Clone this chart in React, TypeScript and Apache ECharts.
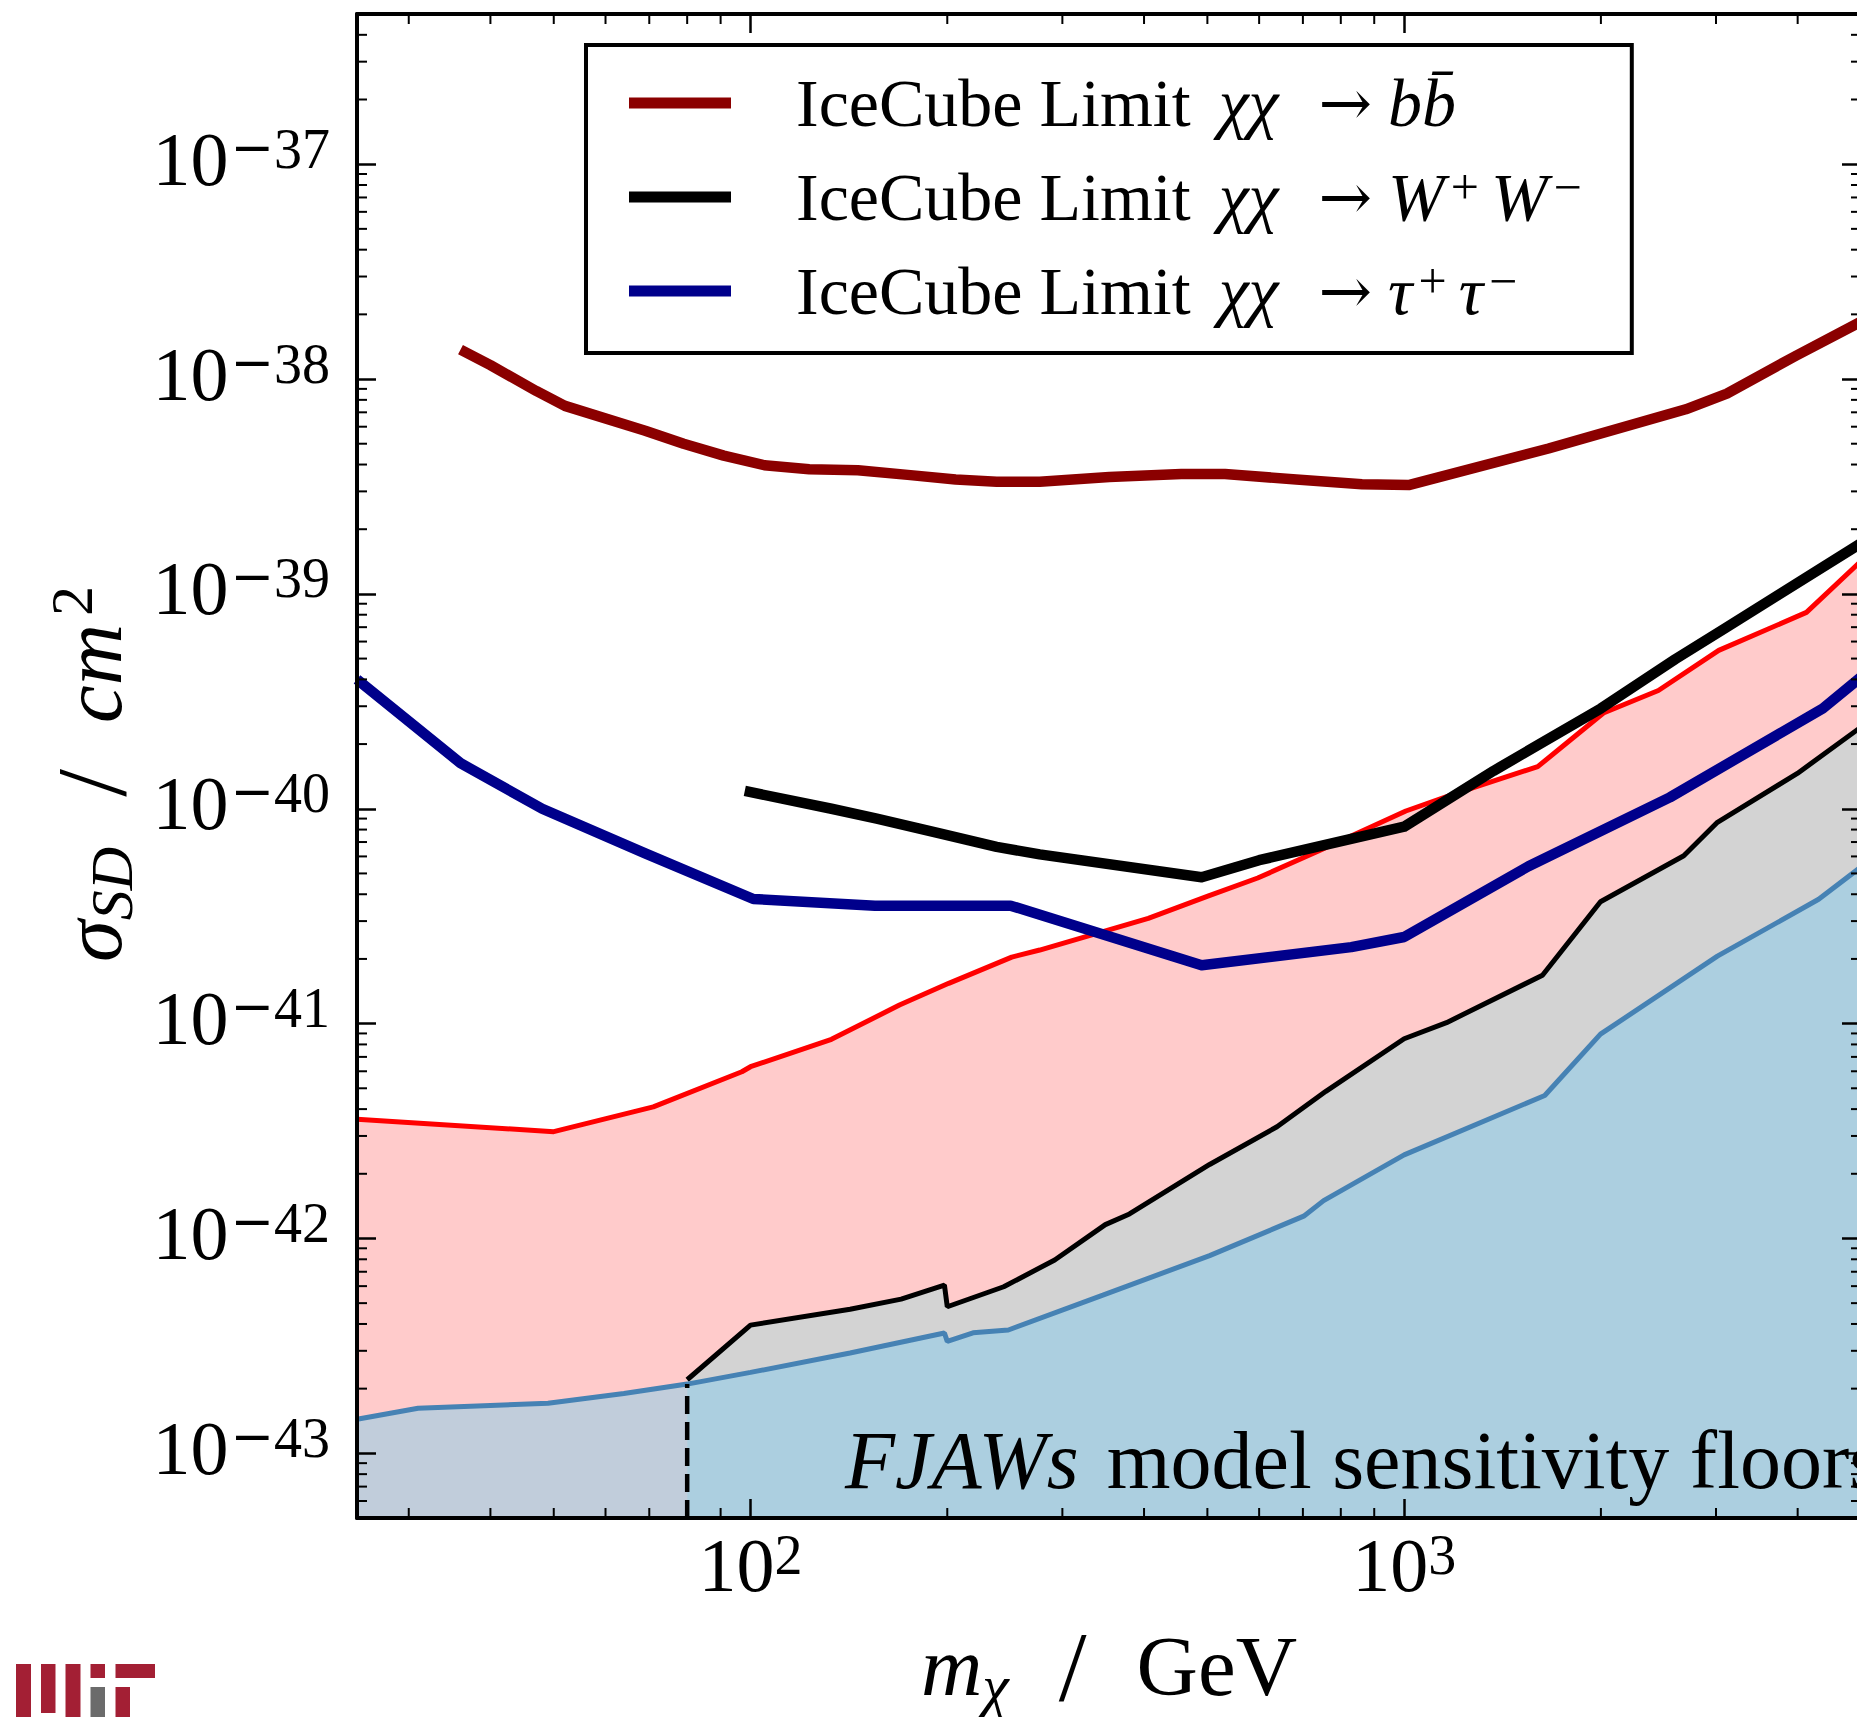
import React, { useEffect, useRef } from 'react';
import * as echarts from 'echarts';

const SERIF = "'Liberation Serif', 'DejaVu Serif', serif";
const WIDE = "'DejaVu Serif', serif";

// ---------- axis ranges ----------
const X_MIN = 25;
const X_MAX = 5000;
const Y_MIN = 5e-44;
const Y_MAX = 5e-37;
// cross sections are handed to the log axis in units of 1e-40 cm^2 (avoids rounding of tiny powers)
const Y_UNIT_EXP = -40;
const Y_UNIT = 1e-40;

// ---------- minor tick positions ----------
const X_MINOR_TICKS = [30, 40, 50, 60, 70, 80, 90, 200, 300, 400, 500, 600, 700, 800, 900, 2000, 3000, 4000];
const Y_MINOR_MULTIPLIERS = [2, 3, 4, 5, 6, 7, 8, 9];
const Y_MINOR_DECADES = [-44, -43, -42, -41, -40, -39, -38, -37];

// ---------- IceCube limits (thick lines) ----------
const BB_NAME = 'IceCube Limit χχ → bb̄';
const BB_MASS = [36, 40, 47, 52, 69, 79, 91, 105, 123, 146, 174, 206, 238, 277, 354, 456, 532, 684, 862, 1016, 1663, 2697, 3117, 3970, 5000];
const BB_SIGMA = [1.37e-38, 1.16e-38, 8.8e-39, 7.5e-39, 5.75e-39, 5.0e-39, 4.4e-39, 3.97e-39, 3.8e-39, 3.76e-39, 3.58e-39, 3.41e-39, 3.33e-39, 3.33e-39, 3.5e-39, 3.61e-39, 3.61e-39, 3.41e-39, 3.24e-39, 3.21e-39, 4.75e-39, 7.23e-39, 8.55e-39, 1.28e-38, 1.85e-38];

const WW_NAME = 'IceCube Limit χχ → W⁺W⁻';
const WW_MASS = [98, 133, 156, 194, 238, 277, 490, 600, 1000, 1370, 2000, 2600, 3100, 5000];
const WW_SIGMA = [1.21e-40, 1.0e-40, 9.0e-41, 7.7e-41, 6.65e-41, 6.13e-41, 4.8e-41, 5.76e-41, 8.25e-41, 1.5e-40, 2.93e-40, 4.97e-40, 6.93e-40, 1.72e-39];

const TT_NAME = 'IceCube Limit χχ → τ⁺τ⁻';
const TT_MASS = [25, 36, 48, 69, 101, 155, 250, 490, 830, 1000, 1550, 2550, 4370, 5000];
const TT_SIGMA = [4.0e-40, 1.63e-40, 1.0e-40, 6.2e-41, 3.8e-41, 3.54e-41, 3.54e-41, 1.87e-41, 2.27e-41, 2.53e-41, 5.4e-41, 1.13e-40, 2.93e-40, 4.1e-40];

// ---------- FJAWs sensitivity floors (filled regions) ----------
const RED_MASS = [25, 50, 71, 97, 100, 133, 169, 201, 251, 277, 406, 502, 597, 738, 1006, 1200, 1601, 2018, 2449, 3029, 4126, 5000];
const RED_SIGMA = [3.59e-42, 3.14e-42, 4.1e-42, 5.97e-42, 6.3e-42, 8.45e-42, 1.22e-41, 1.54e-41, 2.04e-41, 2.2e-41, 3.09e-41, 3.93e-41, 4.76e-41, 6.34e-41, 9.76e-41, 1.18e-40, 1.57e-40, 2.79e-40, 3.55e-40, 5.46e-40, 8.2e-40, 1.42e-39];

const GRAY_MASS = [80, 100, 142, 170, 198, 200, 244, 292, 349, 380, 504, 639, 759, 1000, 1161, 1628, 1997, 2678, 3015, 3996, 5000];
const GRAY_SIGMA = [2.2e-43, 3.95e-43, 4.68e-43, 5.22e-43, 6.07e-43, 4.81e-43, 5.96e-43, 7.94e-43, 1.16e-42, 1.3e-42, 2.21e-42, 3.31e-42, 4.84e-42, 8.5e-42, 1.01e-41, 1.68e-41, 3.69e-41, 6.04e-41, 8.65e-41, 1.46e-40, 2.4e-40];

const BLUE_LEFT_MASS = [25, 31, 49, 64, 80];
const BLUE_LEFT_SIGMA = [1.44e-43, 1.62e-43, 1.71e-43, 1.9e-43, 2.1e-43];

const BLUE_MASS = [80, 100, 142, 198, 200, 219, 248, 346, 504, 702, 753, 1000, 1641, 1997, 3015, 4307, 5000];
const BLUE_SIGMA = [2.1e-43, 2.38e-43, 2.93e-43, 3.63e-43, 3.32e-43, 3.64e-43, 3.75e-43, 5.45e-43, 8.32e-43, 1.27e-42, 1.5e-42, 2.45e-42, 4.63e-42, 8.93e-42, 2.06e-41, 3.79e-41, 5.36e-41];

const THRESHOLD_MASS = [80, 80];
const THRESHOLD_SIGMA = [Y_MIN, 2.1e-43];

// ---------- colours ----------
const DARK_RED = '#8B0000';
const NAVY = '#00008B';
const PINK_FILL = '#FFCBCB';
const GRAY_FILL = '#D3D3D3';
const BLUE_FILL = '#ACCFE0';
const LEFT_FILL = '#C1CDDB';
const STEEL = '#4682B4';
const MIT_RED = '#A31F34';
const MIT_GRAY = '#6B6B6B';

const yu = (s: number) => s / Y_UNIT;
const pairs = (xs: number[], ys: number[]) => xs.map((x, i) => [x, yu(ys[i])]);

const powLabel = (offset: number) => (v: number) => {
  if (!(v > 0)) return '';
  const e = Math.log10(v);
  const r = Math.round(e);
  if (Math.abs(e - r) > 1e-6) return '';
  const p = r + offset;
  if (p < 0) return `{b|10}{m|\u2212}{e|${-p}}`;
  return `{b|10}{e|${p}}`;
};

const tickRich = {
  b: { fontFamily: SERIF, fontSize: 76, lineHeight: 76, color: '#000' },
  m: { fontFamily: WIDE, fontSize: 52, lineHeight: 16, verticalAlign: 'top', padding: [0, 0, 0, 2], color: '#000' },
  e: { fontFamily: SERIF, fontSize: 56, lineHeight: 16, verticalAlign: 'top', color: '#000' },
};

const nameRich = {
  i: { fontFamily: SERIF, fontStyle: 'italic', fontSize: 85, lineHeight: 100, color: '#000' },
  s: { fontFamily: SERIF, fontStyle: 'italic', fontSize: 60, lineHeight: 57, verticalAlign: 'bottom', color: '#000' },
  sl: { fontFamily: SERIF, fontSize: 100, lineHeight: 94, verticalAlign: 'bottom', padding: [0, 0, 0, 50], color: '#000' },
  r: { fontFamily: SERIF, fontSize: 85, lineHeight: 100, padding: [0, 0, 0, 50], color: '#000' },
  ic: { fontFamily: SERIF, fontStyle: 'italic', fontSize: 85, lineHeight: 100, padding: [0, 0, 0, 46], color: '#000' },
  p: { fontFamily: SERIF, fontSize: 60, lineHeight: 55, verticalAlign: 'top', padding: [0, 0, 0, 8], color: '#000' },
};

const LEG_FS = 68;
const legendRich = {
  p: { fontFamily: SERIF, fontSize: LEG_FS, lineHeight: 70, padding: [0, 0, 0, 60], color: '#000' },
  i: { fontFamily: SERIF, fontStyle: 'italic', fontSize: LEG_FS, lineHeight: 70, padding: [0, 0, 0, 28], color: '#000' },
  a: { fontFamily: WIDE, fontSize: 64, lineHeight: 70, padding: [0, 0, 0, 40], color: '#000' },
  j: { fontFamily: SERIF, fontStyle: 'italic', fontSize: LEG_FS, lineHeight: 70, padding: [0, 0, 0, 16], color: '#000' },
  k: { fontFamily: SERIF, fontStyle: 'italic', fontSize: LEG_FS, lineHeight: 70, padding: [0, 0, 0, 12], color: '#000' },
  s: { fontFamily: SERIF, fontSize: 50, lineHeight: 46, verticalAlign: 'top', padding: [0, 0, 0, 6], color: '#000' },
};

const LEGEND_TEXT: Record<string, string> = {
  [BB_NAME]: '{p|IceCube Limit}{i|χχ}{a|→}{j|bb\u0304}',
  [WW_NAME]: '{p|IceCube Limit}{i|χχ}{a|→}{j|W}{s|+}{k|W}{s|\u2212}',
  [TT_NAME]: '{p|IceCube Limit}{i|χχ}{a|→}{j|τ}{s|+}{k|τ}{s|\u2212}',
};

const MAJOR_LEN = 19;
const MINOR_LEN = 10;

function buildMinorTicks() {
  const out: number[][] = [];
  X_MINOR_TICKS.forEach((m) => out.push([m, yu(Y_MIN), 0]));
  Y_MINOR_DECADES.forEach((d) => {
    Y_MINOR_MULTIPLIERS.forEach((k) => {
      const v = k * Math.pow(10, d);
      if (v > Y_MIN * 1.0001 && v < Y_MAX * 0.9999) out.push([X_MIN, yu(v), 1]);
    });
  });
  return out;
}

function axisCommon(extra: any) {
  return {
    z: 10,
    axisLine: { show: true, onZero: false, lineStyle: { color: '#000', width: 4 } },
    axisTick: { show: true, inside: true, length: MAJOR_LEN, lineStyle: { color: '#000', width: 2.5 } },
    splitLine: { show: false },
    minorTick: { show: false },
    ...extra,
  };
}

function buildOption() {
  const thin = (data: number[][], color: string, fill: string, z: number) => ({
    type: 'line',
    data,
    z,
    symbol: 'none',
    silent: true,
    lineStyle: { color, width: 5 },
    itemStyle: { color },
    areaStyle: { color: fill, opacity: 1, origin: 'start' },
  });
  const thick = (name: string, data: number[][], color: string) => ({
    type: 'line',
    name,
    data,
    z: 6,
    symbol: 'none',
    silent: true,
    color,
    lineStyle: { color, width: 10.5, join: 'round' },
    itemStyle: { color },
  });

  return {
    animation: false,
    backgroundColor: '#fff',
    grid: { left: 357, right: -4, top: 14, bottom: 199, containLabel: false, outerBoundsMode: 'none' },
    xAxis: [
      axisCommon({
        type: 'log',
        logBase: 10,
        min: X_MIN,
        max: X_MAX,
        position: 'bottom',
        axisLabel: { margin: 9, formatter: powLabel(0), rich: tickRich, fontFamily: SERIF, fontSize: 76, color: '#000' },
        name: '{i|m}{s|χ}{sl|/}{r|GeV}',
        nameLocation: 'middle',
        nameGap: 98,
        nameTextStyle: { fontFamily: SERIF, fontSize: 85, color: '#000', rich: nameRich },
      }),
      axisCommon({
        type: 'log',
        logBase: 10,
        min: X_MIN,
        max: X_MAX,
        position: 'top',
        axisLabel: { show: false },
      }),
    ],
    yAxis: [
      axisCommon({
        type: 'log',
        logBase: 10,
        min: yu(Y_MIN),
        max: yu(Y_MAX),
        position: 'left',
        axisLabel: { margin: 27, padding: [0, 0, 11, 0], formatter: powLabel(Y_UNIT_EXP), rich: tickRich, fontFamily: SERIF, fontSize: 76, color: '#000' },
        name: '{i|σ}{s|SD}{sl|/}{ic|cm}{p|2}',
        nameLocation: 'middle',
        nameGap: 206,
        nameTextStyle: { fontFamily: SERIF, fontSize: 85, color: '#000', rich: nameRich, padding: [0, 16, 0, 0] },
      }),
      axisCommon({
        type: 'log',
        logBase: 10,
        min: yu(Y_MIN),
        max: yu(Y_MAX),
        position: 'right',
        axisLabel: { show: false },
      }),
    ],
    legend: {
      show: true,
      z: 12,
      orient: 'vertical',
      left: 586,
      top: 45,
      padding: [24, 50, 28, 43],
      itemGap: 25,
      itemWidth: 102,
      itemHeight: 11,
      icon: 'rect',
      selectedMode: false,
      backgroundColor: '#fff',
      borderColor: '#000',
      borderWidth: 4,
      borderRadius: 0,
      itemStyle: { borderWidth: 0 },
      data: [BB_NAME, WW_NAME, TT_NAME],
      formatter: (name: string) => LEGEND_TEXT[name] || name,
      textStyle: { fontFamily: SERIF, fontSize: LEG_FS, color: '#000', rich: legendRich },
    },
    graphic: [
      { type: 'rect', shape: { x: 16, y: 1664, width: 15, height: 53 }, style: { fill: MIT_RED } },
      { type: 'rect', shape: { x: 41, y: 1664, width: 14.5, height: 49 }, style: { fill: MIT_RED } },
      { type: 'rect', shape: { x: 65.5, y: 1664, width: 15, height: 53 }, style: { fill: MIT_RED } },
      { type: 'rect', shape: { x: 90.5, y: 1664, width: 14.5, height: 14 }, style: { fill: MIT_RED } },
      { type: 'rect', shape: { x: 90.5, y: 1687, width: 14.5, height: 30 }, style: { fill: MIT_GRAY } },
      { type: 'rect', shape: { x: 115.5, y: 1664, width: 39.5, height: 14 }, style: { fill: MIT_RED } },
      { type: 'rect', shape: { x: 115.5, y: 1687, width: 14.5, height: 30 }, style: { fill: MIT_RED } },
      {
        type: 'text',
        x: 845,
        y: 1460,
        z: 7,
        silent: true,
        style: {
          text: '{i|FJAWs}{r|model sensitivity floors}',
          align: 'left',
          verticalAlign: 'middle',
          rich: {
            i: { fontFamily: SERIF, fontStyle: 'italic', fontSize: 82, lineHeight: 82, fill: '#000' },
            r: { fontFamily: SERIF, fontSize: 82, lineHeight: 82, padding: [0, 0, 0, 28], fill: '#000' },
          },
        },
      },
    ],
    series: [
      thin(pairs(RED_MASS, RED_SIGMA), '#FF0000', PINK_FILL, 2),
      thin(pairs(GRAY_MASS, GRAY_SIGMA), '#000000', GRAY_FILL, 3),
      thin(pairs(BLUE_LEFT_MASS, BLUE_LEFT_SIGMA), STEEL, LEFT_FILL, 4),
      thin(pairs(BLUE_MASS, BLUE_SIGMA), STEEL, BLUE_FILL, 4),
      {
        type: 'line',
        data: pairs(THRESHOLD_MASS, THRESHOLD_SIGMA),
        z: 5,
        symbol: 'none',
        silent: true,
        lineStyle: { color: '#000', width: 4.5, type: [18, 8] },
      },
      thick(BB_NAME, pairs(BB_MASS, BB_SIGMA), DARK_RED),
      thick(WW_NAME, pairs(WW_MASS, WW_SIGMA), '#000000'),
      thick(TT_NAME, pairs(TT_MASS, TT_SIGMA), NAVY),
      {
        type: 'custom',
        coordinateSystem: 'cartesian2d',
        z: 11,
        silent: true,
        clip: false,
        encode: { x: 0, y: 1 },
        data: buildMinorTicks(),
        renderItem: (params: any, api: any) => {
          const cs = params.coordSys;
          const kind = api.value(2);
          const st = { stroke: '#000', lineWidth: 2 };
          if (kind === 0) {
            const px = api.coord([api.value(0), yu(Y_MIN)])[0];
            return {
              type: 'group',
              children: [
                { type: 'line', shape: { x1: px, y1: cs.y + cs.height, x2: px, y2: cs.y + cs.height - MINOR_LEN }, style: st },
                { type: 'line', shape: { x1: px, y1: cs.y, x2: px, y2: cs.y + MINOR_LEN }, style: st },
              ],
            };
          }
          const py = api.coord([X_MIN, api.value(1)])[1];
          return {
            type: 'group',
            children: [
              { type: 'line', shape: { x1: cs.x, y1: py, x2: cs.x + MINOR_LEN, y2: py }, style: st },
              { type: 'line', shape: { x1: cs.x + cs.width, y1: py, x2: cs.x + cs.width - MINOR_LEN, y2: py }, style: st },
            ],
          };
        },
      },
    ],
  };
}

export default function App() {
  const ref = useRef<HTMLDivElement>(null);
  useEffect(() => {
    if (!ref.current) return;
    const chart = echarts.init(ref.current, null, { renderer: 'svg' });
    chart.setOption(buildOption() as any);
    return () => chart.dispose();
  }, []);
  return (
    <div
      ref={ref}
      style={{ position: 'absolute', left: 0, top: 0, width: 1857, height: 1717, background: '#fff' }}
    />
  );
}
